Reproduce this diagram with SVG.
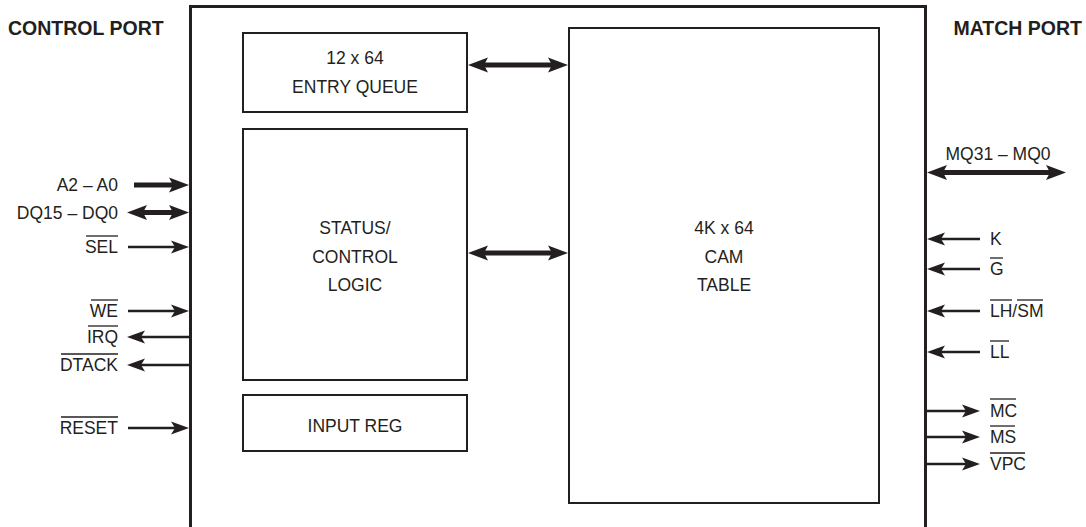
<svg xmlns="http://www.w3.org/2000/svg" width="1086" height="527" viewBox="0 0 1086 527">
<style>
text{font-family:"Liberation Sans",Arial,sans-serif;font-size:17.5px;fill:#231f20}
.t{font-weight:bold;font-size:19.5px}
.r{text-anchor:end}
.m{text-anchor:middle}
.box{fill:none;stroke:#231f20;stroke-width:2}
.outer{fill:none;stroke:#231f20;stroke-width:3}
.thick{stroke:#231f20;stroke-width:5;fill:none;marker-end:url(#hk)}
.thin{stroke:#231f20;stroke-width:2.5;fill:none;marker-end:url(#hn)}
.dbl{marker-start:url(#hk)}
.ov{stroke:#231f20;stroke-width:1.3}
</style>
<defs>
<marker id="hk" viewBox="0 -9 21 18" refX="10" refY="0" markerWidth="21" markerHeight="18" markerUnits="userSpaceOnUse" orient="auto-start-reverse">
<path d="M20,0 L0,-7.5 L4,0 L0,7.5 Z" fill="#231f20"/>
</marker>
<marker id="hn" viewBox="0 -8 19 16" refX="9" refY="0" markerWidth="19" markerHeight="16" markerUnits="userSpaceOnUse" orient="auto-start-reverse">
<path d="M18,0 L0,-6.5 L4,0 L0,6.5 Z" fill="#231f20"/>
</marker>
</defs>
<rect width="1086" height="527" fill="#fff"/>

<g id="titles">
<text class="t" x="8" y="35">CONTROL PORT</text>
<text class="t r" x="1082" y="35">MATCH PORT</text>
</g>

<g id="chip">
<path class="outer" d="M190.5,527 V6.5 H925.5 V527"/>
</g>

<g id="entry-queue">
<rect class="box" x="243" y="33" width="224" height="79"/>
<text class="m" x="355" y="64">12 x 64</text>
<text class="m" x="355" y="93">ENTRY QUEUE</text>
</g>

<g id="status-control">
<rect class="box" x="243" y="129" width="224" height="251"/>
<text class="m" x="355" y="234">STATUS/</text>
<text class="m" x="355" y="263">CONTROL</text>
<text class="m" x="355" y="291">LOGIC</text>
</g>

<g id="input-reg">
<rect class="box" x="243" y="395" width="224" height="56"/>
<text class="m" x="355" y="432">INPUT REG</text>
</g>

<g id="cam-table">
<rect class="box" x="569" y="28" width="310" height="475"/>
<text class="m" x="724" y="234">4K x 64</text>
<text class="m" x="724" y="263">CAM</text>
<text class="m" x="724" y="291">TABLE</text>
</g>

<g id="connectors">
<path class="thick dbl" d="M478,65 H558"/>
<path class="thick dbl" d="M478,253 H558"/>
<path class="thick" d="M134,185 H179"/>
<path class="thick dbl" d="M137,212.5 H179"/>
<path class="thin" d="M128,247 H180"/>
<path class="thin" d="M128,311 H180"/>
<path class="thin" d="M189,337 H136"/>
<path class="thin" d="M189,365 H136"/>
<path class="thin" d="M128,428 H180"/>
<path class="thick dbl" d="M937,172.5 H1056"/>
<path class="thin" d="M980,239 H936"/>
<path class="thin" d="M980,269 H936"/>
<path class="thin" d="M980,311 H936"/>
<path class="thin" d="M980,352 H936"/>
<path class="thin" d="M926,411 H971"/>
<path class="thin" d="M926,437 H971"/>
<path class="thin" d="M926,464 H971"/>
</g>

<g id="control-signals">
<text class="r" x="118" y="191">A2 – A0</text>
<text class="r" x="118" y="219">DQ15 – DQ0</text>
<text class="r" x="118" y="253">SEL</text>
<line class="ov" x1="86" y1="236" x2="118" y2="236"/>
<text class="r" x="118" y="317">WE</text>
<line class="ov" x1="91" y1="300" x2="118" y2="300"/>
<text class="r" x="118" y="343">IRQ</text>
<line class="ov" x1="88" y1="326" x2="118" y2="326"/>
<text class="r" x="118" y="371">DTACK</text>
<line class="ov" x1="61" y1="354" x2="118" y2="354"/>
<text class="r" x="118" y="434">RESET</text>
<line class="ov" x1="61" y1="417" x2="118" y2="417"/>
</g>

<g id="match-signals">
<text class="m" x="998" y="160">MQ31 – MQ0</text>
<text x="990" y="245">K</text>
<text x="990" y="275">G</text>
<line class="ov" x1="990" y1="258" x2="1003" y2="258"/>
<text x="990" y="317">LH/SM</text>
<line class="ov" x1="990" y1="300" x2="1012" y2="300"/>
<line class="ov" x1="1017" y1="300" x2="1043" y2="300"/>
<text x="990" y="358">LL</text>
<line class="ov" x1="990" y1="341" x2="1009" y2="341"/>
<text x="990" y="417">MC</text>
<line class="ov" x1="990" y1="399" x2="1016" y2="399"/>
<text x="990" y="443">MS</text>
<line class="ov" x1="990" y1="426" x2="1015" y2="426"/>
<text x="990" y="470">VPC</text>
<line class="ov" x1="990" y1="453" x2="1025" y2="453"/>
</g>
</svg>
